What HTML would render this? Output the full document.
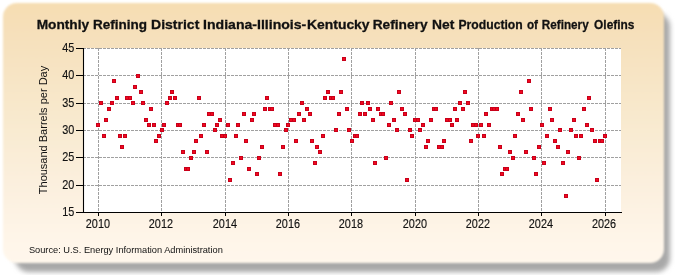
<!DOCTYPE html>
<html><head><meta charset="utf-8">
<style>
html,body{margin:0;padding:0;background:#fff;}
body{width:675px;height:275px;overflow:hidden;position:relative;font-family:"Liberation Sans",sans-serif;}
#shadow{position:absolute;left:15px;top:13px;width:655px;height:259px;border-radius:14px;background:#a8a8a8;filter:blur(2.8px);}
#panel{filter:blur(1.1px);position:absolute;left:3px;top:3px;width:661px;height:260px;border-radius:14px;background:linear-gradient(to bottom,#F6DDB2 0%,#F6E0BB 12%,#F9EBD1 49%,#FBEFDD 68%,#FFF6EA 93%,#FFF7EC 100%);}
svg{position:absolute;left:0;top:0;will-change:transform;}
.title{font-weight:bold;font-size:13.4px;fill:#111;stroke:#111;stroke-width:0.3px;}
.lbl{font-size:12px;fill:#111;}
.tl{font-size:12.5px;fill:#111;stroke:#111;stroke-width:0.15px;}
</style></head><body>
<div id="shadow"></div>
<div id="panel"></div>
<svg width="675" height="275" viewBox="0 0 675 275">
<text class="title" transform="translate(36.68,28.5) scale(1.022,1)">Monthly</text>
<text class="title" transform="translate(93.09,28.5) scale(1.008,1)">Refining</text>
<text class="title" transform="translate(151.05,28.5) scale(1.047,1)">District</text>
<text class="title" transform="translate(203.05,28.5) scale(1.051,1)">Indiana-Illinois-</text>
<text class="title" transform="translate(306.96,28.5) scale(1.039,1)">Kentucky</text>
<text class="title" transform="translate(372.68,28.5) scale(1.023,1)">Refinery</text>
<text class="title" transform="translate(432.06,28.5) scale(1.035,1)">Net</text>
<text class="title" transform="translate(458.49,28.5) scale(0.909,1)">Production</text>
<text class="title" transform="translate(526.90,28.5) scale(0.877,1)">of</text>
<text class="title" transform="translate(541.83,28.5) scale(0.874,1)">Refinery</text>
<text class="title" transform="translate(594.10,28.5) scale(0.889,1)">Olefins</text>
<rect x="83" y="48" width="538" height="164" fill="#fff"/>
<g stroke="#a0a0a0" stroke-width="1" stroke-dasharray="3,1">
<line x1="98.5" y1="48" x2="98.5" y2="212"/>
<line x1="161.5" y1="48" x2="161.5" y2="212"/>
<line x1="225.5" y1="48" x2="225.5" y2="212"/>
<line x1="288.5" y1="48" x2="288.5" y2="212"/>
<line x1="351.5" y1="48" x2="351.5" y2="212"/>
<line x1="415.5" y1="48" x2="415.5" y2="212"/>
<line x1="478.5" y1="48" x2="478.5" y2="212"/>
<line x1="541.5" y1="48" x2="541.5" y2="212"/>
<line x1="605.5" y1="48" x2="605.5" y2="212"/>
<line x1="83" y1="48.5" x2="621" y2="48.5"/>
<line x1="83" y1="75.5" x2="621" y2="75.5"/>
<line x1="83" y1="103.5" x2="621" y2="103.5"/>
<line x1="83" y1="130.5" x2="621" y2="130.5"/>
<line x1="83" y1="157.5" x2="621" y2="157.5"/>
<line x1="83" y1="185.5" x2="621" y2="185.5"/>
</g>
<g fill="#F2081E" stroke="#C8001A" stroke-width="1">
<rect x="96.5" y="123.5" width="3" height="3"/>
<rect x="99.5" y="101.5" width="3" height="3"/>
<rect x="102.5" y="134.5" width="3" height="3"/>
<rect x="104.5" y="118.5" width="3" height="3"/>
<rect x="107.5" y="107.5" width="3" height="3"/>
<rect x="110.5" y="101.5" width="3" height="3"/>
<rect x="112.5" y="79.5" width="3" height="3"/>
<rect x="115.5" y="96.5" width="3" height="3"/>
<rect x="118.5" y="134.5" width="3" height="3"/>
<rect x="120.5" y="145.5" width="3" height="3"/>
<rect x="123.5" y="134.5" width="3" height="3"/>
<rect x="125.5" y="96.5" width="3" height="3"/>
<rect x="128.5" y="96.5" width="3" height="3"/>
<rect x="131.5" y="101.5" width="3" height="3"/>
<rect x="133.5" y="85.5" width="3" height="3"/>
<rect x="136.5" y="74.5" width="3" height="3"/>
<rect x="139.5" y="90.5" width="3" height="3"/>
<rect x="141.5" y="101.5" width="3" height="3"/>
<rect x="144.5" y="118.5" width="3" height="3"/>
<rect x="147.5" y="123.5" width="3" height="3"/>
<rect x="149.5" y="107.5" width="3" height="3"/>
<rect x="152.5" y="123.5" width="3" height="3"/>
<rect x="154.5" y="139.5" width="3" height="3"/>
<rect x="157.5" y="134.5" width="3" height="3"/>
<rect x="160.5" y="128.5" width="3" height="3"/>
<rect x="162.5" y="123.5" width="3" height="3"/>
<rect x="165.5" y="101.5" width="3" height="3"/>
<rect x="168.5" y="96.5" width="3" height="3"/>
<rect x="170.5" y="90.5" width="3" height="3"/>
<rect x="173.5" y="96.5" width="3" height="3"/>
<rect x="176.5" y="123.5" width="3" height="3"/>
<rect x="178.5" y="123.5" width="3" height="3"/>
<rect x="181.5" y="150.5" width="3" height="3"/>
<rect x="184.5" y="167.5" width="3" height="3"/>
<rect x="186.5" y="167.5" width="3" height="3"/>
<rect x="189.5" y="156.5" width="3" height="3"/>
<rect x="192.5" y="150.5" width="3" height="3"/>
<rect x="194.5" y="139.5" width="3" height="3"/>
<rect x="197.5" y="96.5" width="3" height="3"/>
<rect x="199.5" y="134.5" width="3" height="3"/>
<rect x="202.5" y="123.5" width="3" height="3"/>
<rect x="205.5" y="150.5" width="3" height="3"/>
<rect x="207.5" y="112.5" width="3" height="3"/>
<rect x="210.5" y="112.5" width="3" height="3"/>
<rect x="213.5" y="128.5" width="3" height="3"/>
<rect x="215.5" y="123.5" width="3" height="3"/>
<rect x="218.5" y="118.5" width="3" height="3"/>
<rect x="220.5" y="134.5" width="3" height="3"/>
<rect x="223.5" y="134.5" width="3" height="3"/>
<rect x="226.5" y="123.5" width="3" height="3"/>
<rect x="228.5" y="178.5" width="3" height="3"/>
<rect x="231.5" y="161.5" width="3" height="3"/>
<rect x="234.5" y="134.5" width="3" height="3"/>
<rect x="236.5" y="123.5" width="3" height="3"/>
<rect x="239.5" y="156.5" width="3" height="3"/>
<rect x="242.5" y="112.5" width="3" height="3"/>
<rect x="244.5" y="139.5" width="3" height="3"/>
<rect x="247.5" y="167.5" width="3" height="3"/>
<rect x="250.5" y="118.5" width="3" height="3"/>
<rect x="252.5" y="112.5" width="3" height="3"/>
<rect x="255.5" y="172.5" width="3" height="3"/>
<rect x="257.5" y="156.5" width="3" height="3"/>
<rect x="260.5" y="145.5" width="3" height="3"/>
<rect x="263.5" y="107.5" width="3" height="3"/>
<rect x="265.5" y="96.5" width="3" height="3"/>
<rect x="268.5" y="107.5" width="3" height="3"/>
<rect x="270.5" y="107.5" width="3" height="3"/>
<rect x="273.5" y="123.5" width="3" height="3"/>
<rect x="276.5" y="123.5" width="3" height="3"/>
<rect x="278.5" y="172.5" width="3" height="3"/>
<rect x="281.5" y="145.5" width="3" height="3"/>
<rect x="284.5" y="128.5" width="3" height="3"/>
<rect x="286.5" y="123.5" width="3" height="3"/>
<rect x="289.5" y="118.5" width="3" height="3"/>
<rect x="292.5" y="118.5" width="3" height="3"/>
<rect x="294.5" y="139.5" width="3" height="3"/>
<rect x="297.5" y="112.5" width="3" height="3"/>
<rect x="300.5" y="101.5" width="3" height="3"/>
<rect x="302.5" y="118.5" width="3" height="3"/>
<rect x="305.5" y="107.5" width="3" height="3"/>
<rect x="308.5" y="112.5" width="3" height="3"/>
<rect x="310.5" y="139.5" width="3" height="3"/>
<rect x="313.5" y="161.5" width="3" height="3"/>
<rect x="315.5" y="145.5" width="3" height="3"/>
<rect x="318.5" y="150.5" width="3" height="3"/>
<rect x="321.5" y="134.5" width="3" height="3"/>
<rect x="323.5" y="96.5" width="3" height="3"/>
<rect x="326.5" y="90.5" width="3" height="3"/>
<rect x="329.5" y="96.5" width="3" height="3"/>
<rect x="331.5" y="96.5" width="3" height="3"/>
<rect x="334.5" y="128.5" width="3" height="3"/>
<rect x="337.5" y="112.5" width="3" height="3"/>
<rect x="339.5" y="90.5" width="3" height="3"/>
<rect x="342.5" y="57.5" width="3" height="3"/>
<rect x="345.5" y="107.5" width="3" height="3"/>
<rect x="347.5" y="128.5" width="3" height="3"/>
<rect x="350.5" y="139.5" width="3" height="3"/>
<rect x="353.5" y="134.5" width="3" height="3"/>
<rect x="355.5" y="134.5" width="3" height="3"/>
<rect x="358.5" y="112.5" width="3" height="3"/>
<rect x="360.5" y="101.5" width="3" height="3"/>
<rect x="363.5" y="112.5" width="3" height="3"/>
<rect x="366.5" y="101.5" width="3" height="3"/>
<rect x="368.5" y="107.5" width="3" height="3"/>
<rect x="371.5" y="118.5" width="3" height="3"/>
<rect x="373.5" y="161.5" width="3" height="3"/>
<rect x="376.5" y="107.5" width="3" height="3"/>
<rect x="379.5" y="112.5" width="3" height="3"/>
<rect x="381.5" y="112.5" width="3" height="3"/>
<rect x="384.5" y="156.5" width="3" height="3"/>
<rect x="387.5" y="123.5" width="3" height="3"/>
<rect x="389.5" y="101.5" width="3" height="3"/>
<rect x="392.5" y="118.5" width="3" height="3"/>
<rect x="395.5" y="128.5" width="3" height="3"/>
<rect x="397.5" y="90.5" width="3" height="3"/>
<rect x="400.5" y="107.5" width="3" height="3"/>
<rect x="403.5" y="112.5" width="3" height="3"/>
<rect x="405.5" y="178.5" width="3" height="3"/>
<rect x="408.5" y="128.5" width="3" height="3"/>
<rect x="410.5" y="134.5" width="3" height="3"/>
<rect x="413.5" y="118.5" width="3" height="3"/>
<rect x="416.5" y="118.5" width="3" height="3"/>
<rect x="418.5" y="128.5" width="3" height="3"/>
<rect x="421.5" y="123.5" width="3" height="3"/>
<rect x="424.5" y="145.5" width="3" height="3"/>
<rect x="426.5" y="139.5" width="3" height="3"/>
<rect x="429.5" y="118.5" width="3" height="3"/>
<rect x="432.5" y="107.5" width="3" height="3"/>
<rect x="434.5" y="107.5" width="3" height="3"/>
<rect x="437.5" y="145.5" width="3" height="3"/>
<rect x="440.5" y="145.5" width="3" height="3"/>
<rect x="442.5" y="139.5" width="3" height="3"/>
<rect x="445.5" y="118.5" width="3" height="3"/>
<rect x="448.5" y="118.5" width="3" height="3"/>
<rect x="450.5" y="123.5" width="3" height="3"/>
<rect x="453.5" y="107.5" width="3" height="3"/>
<rect x="455.5" y="118.5" width="3" height="3"/>
<rect x="458.5" y="101.5" width="3" height="3"/>
<rect x="461.5" y="107.5" width="3" height="3"/>
<rect x="463.5" y="90.5" width="3" height="3"/>
<rect x="466.5" y="101.5" width="3" height="3"/>
<rect x="469.5" y="139.5" width="3" height="3"/>
<rect x="471.5" y="123.5" width="3" height="3"/>
<rect x="474.5" y="123.5" width="3" height="3"/>
<rect x="476.5" y="134.5" width="3" height="3"/>
<rect x="479.5" y="123.5" width="3" height="3"/>
<rect x="482.5" y="134.5" width="3" height="3"/>
<rect x="484.5" y="112.5" width="3" height="3"/>
<rect x="487.5" y="123.5" width="3" height="3"/>
<rect x="490.5" y="107.5" width="3" height="3"/>
<rect x="492.5" y="107.5" width="3" height="3"/>
<rect x="495.5" y="107.5" width="3" height="3"/>
<rect x="498.5" y="145.5" width="3" height="3"/>
<rect x="500.5" y="172.5" width="3" height="3"/>
<rect x="503.5" y="167.5" width="3" height="3"/>
<rect x="505.5" y="167.5" width="3" height="3"/>
<rect x="508.5" y="150.5" width="3" height="3"/>
<rect x="511.5" y="156.5" width="3" height="3"/>
<rect x="513.5" y="134.5" width="3" height="3"/>
<rect x="516.5" y="112.5" width="3" height="3"/>
<rect x="519.5" y="90.5" width="3" height="3"/>
<rect x="521.5" y="118.5" width="3" height="3"/>
<rect x="524.5" y="150.5" width="3" height="3"/>
<rect x="527.5" y="79.5" width="3" height="3"/>
<rect x="529.5" y="107.5" width="3" height="3"/>
<rect x="532.5" y="156.5" width="3" height="3"/>
<rect x="534.5" y="172.5" width="3" height="3"/>
<rect x="537.5" y="145.5" width="3" height="3"/>
<rect x="540.5" y="123.5" width="3" height="3"/>
<rect x="542.5" y="161.5" width="3" height="3"/>
<rect x="545.5" y="134.5" width="3" height="3"/>
<rect x="548.5" y="107.5" width="3" height="3"/>
<rect x="550.5" y="118.5" width="3" height="3"/>
<rect x="553.5" y="139.5" width="3" height="3"/>
<rect x="556.5" y="145.5" width="3" height="3"/>
<rect x="558.5" y="128.5" width="3" height="3"/>
<rect x="561.5" y="161.5" width="3" height="3"/>
<rect x="564.5" y="194.5" width="3" height="3"/>
<rect x="566.5" y="150.5" width="3" height="3"/>
<rect x="569.5" y="128.5" width="3" height="3"/>
<rect x="572.5" y="118.5" width="3" height="3"/>
<rect x="574.5" y="134.5" width="3" height="3"/>
<rect x="577.5" y="156.5" width="3" height="3"/>
<rect x="579.5" y="134.5" width="3" height="3"/>
<rect x="582.5" y="107.5" width="3" height="3"/>
<rect x="585.5" y="123.5" width="3" height="3"/>
<rect x="587.5" y="96.5" width="3" height="3"/>
<rect x="590.5" y="128.5" width="3" height="3"/>
<rect x="593.5" y="139.5" width="3" height="3"/>
<rect x="595.5" y="178.5" width="3" height="3"/>
<rect x="598.5" y="139.5" width="3" height="3"/>
<rect x="600.5" y="139.5" width="3" height="3"/>
<rect x="603.5" y="134.5" width="3" height="3"/>
</g>
<g stroke="#000" stroke-width="1.1">
<line x1="83.5" y1="48" x2="83.5" y2="213"/>
<line x1="76" y1="212.5" x2="622" y2="212.5"/>
</g>
<g stroke="#000" stroke-width="1">
<line x1="76" y1="48.5" x2="83" y2="48.5"/>
<line x1="76" y1="75.5" x2="83" y2="75.5"/>
<line x1="76" y1="103.5" x2="83" y2="103.5"/>
<line x1="76" y1="130.5" x2="83" y2="130.5"/>
<line x1="76" y1="157.5" x2="83" y2="157.5"/>
<line x1="76" y1="185.5" x2="83" y2="185.5"/>
<line x1="76" y1="212.5" x2="83" y2="212.5"/>
<line x1="98.5" y1="212" x2="98.5" y2="216"/>
<line x1="161.5" y1="212" x2="161.5" y2="216"/>
<line x1="225.5" y1="212" x2="225.5" y2="216"/>
<line x1="288.5" y1="212" x2="288.5" y2="216"/>
<line x1="351.5" y1="212" x2="351.5" y2="216"/>
<line x1="415.5" y1="212" x2="415.5" y2="216"/>
<line x1="478.5" y1="212" x2="478.5" y2="216"/>
<line x1="541.5" y1="212" x2="541.5" y2="216"/>
<line x1="605.5" y1="212" x2="605.5" y2="216"/>
</g>
<g class="lbl">
<text class="tl" transform="translate(74.3,51.9) scale(0.87,1)" text-anchor="end">45</text>
<text class="tl" transform="translate(74.3,78.9) scale(0.87,1)" text-anchor="end">40</text>
<text class="tl" transform="translate(74.3,106.9) scale(0.87,1)" text-anchor="end">35</text>
<text class="tl" transform="translate(74.3,133.9) scale(0.87,1)" text-anchor="end">30</text>
<text class="tl" transform="translate(74.3,160.9) scale(0.87,1)" text-anchor="end">25</text>
<text class="tl" transform="translate(74.3,188.9) scale(0.87,1)" text-anchor="end">20</text>
<text class="tl" transform="translate(74.3,215.9) scale(0.87,1)" text-anchor="end">15</text>
<text class="tl" transform="translate(97.9,227.8) scale(0.87,1)" text-anchor="middle">2010</text>
<text class="tl" transform="translate(160.9,227.8) scale(0.87,1)" text-anchor="middle">2012</text>
<text class="tl" transform="translate(224.9,227.8) scale(0.87,1)" text-anchor="middle">2014</text>
<text class="tl" transform="translate(287.9,227.8) scale(0.87,1)" text-anchor="middle">2016</text>
<text class="tl" transform="translate(350.9,227.8) scale(0.87,1)" text-anchor="middle">2018</text>
<text class="tl" transform="translate(414.9,227.8) scale(0.87,1)" text-anchor="middle">2020</text>
<text class="tl" transform="translate(477.9,227.8) scale(0.87,1)" text-anchor="middle">2022</text>
<text class="tl" transform="translate(540.9,227.8) scale(0.87,1)" text-anchor="middle">2024</text>
<text class="tl" transform="translate(604.0,227.8) scale(0.87,1)" text-anchor="middle">2026</text>
</g>
<text class="lbl" transform="translate(47,130) rotate(-90)" text-anchor="middle" style="font-size:11px">Thousand Barrels per Day</text>
<text class="lbl" transform="translate(28.9,253) scale(0.965,1)" style="font-size:9.6px">Source: U.S. Energy Information Administration</text>
</svg>
</body></html>
